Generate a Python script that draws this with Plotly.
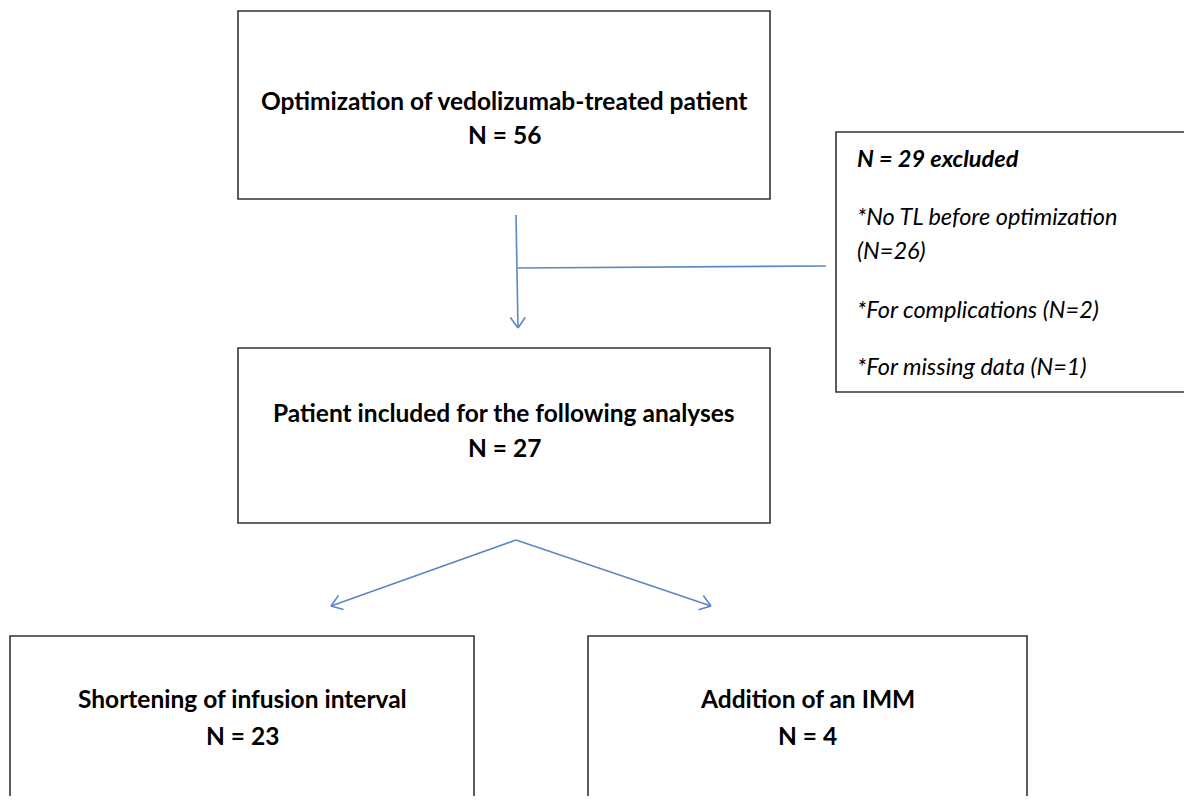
import math
import plotly.graph_objects as go

# ---- data ----
stage_titles = [
    "Optimization of vedolizumab-treated patient",
    "Patient included for the following analyses",
    "Shortening of infusion interval",
    "Addition of an IMM",
]
stage_counts = [56, 27, 23, 4]
excluded_total = 29
excluded_reasons = ["No TL before optimization", "For complications", "For missing data"]
excluded_counts = [26, 2, 1]

# ---- layout (pixel coordinates of the page) ----
W, H = 1192, 804
PAD = 8  # page body margin
boxes = [(238, 11, 770, 199), (238, 348, 770, 523), (10, 636, 474, 830), (588, 636, 1027, 830)]
title_y = [100, 412, 698, 698]
count_y = [134, 447, 735, 735]
excl_box = (836, 132, 1196, 392)

BLUE = "#5b87c5"
FONT = "Lato"
FS = 24.5
FS_EX = 23.5

fig = go.Figure()

for (x0, y0, x1, y1) in boxes + [excl_box]:
    fig.add_shape(type="rect", x0=x0, y0=y0, x1=x1, y1=y1,
                  line=dict(color="#333333", width=1.6), fillcolor="white", layer="below")

for i, (t, n) in enumerate(zip(stage_titles, stage_counts)):
    cx = (boxes[i][0] + boxes[i][2]) / 2
    fig.add_annotation(x=cx, y=title_y[i], text=f"<b>{t}</b>", showarrow=False,
                       font=dict(family=FONT, size=FS, color="black"))
    fig.add_annotation(x=cx, y=count_y[i], text=f"<b>N = {n}</b>", showarrow=False,
                       font=dict(family=FONT, size=FS, color="black"))

# excluded text
ex_x = 855
fig.add_annotation(x=ex_x, y=158, text=f"<b><i>N = {excluded_total} excluded</i></b>", showarrow=False,
                   xanchor="left", font=dict(family=FONT, size=FS_EX, color="black"))
ex_lines = [
    (216, f"<i>*{excluded_reasons[0]}</i>"),
    (250, f"<i>(N={excluded_counts[0]})</i>"),
    (309, f"<i>*{excluded_reasons[1]} (N={excluded_counts[1]})</i>"),
    (366, f"<i>*{excluded_reasons[2]} (N={excluded_counts[2]})</i>"),
]
for y, t in ex_lines:
    fig.add_annotation(x=ex_x, y=y, text=t, showarrow=False, xanchor="left",
                       font=dict(family=FONT, size=FS_EX, color="black"))


def line(xs, ys):
    fig.add_trace(go.Scatter(x=xs, y=ys, mode="lines", line=dict(color=BLUE, width=1.6),
                             hoverinfo="skip", showlegend=False))


def arrow(x0, y0, x1, y1, head=13, ang=35):
    line([x0, x1], [y0, y1])
    a = math.atan2(y0 - y1, x0 - x1)
    for s in (-1, 1):
        b = a + s * math.radians(ang)
        line([x1 + head * math.cos(b), x1], [y1 + head * math.sin(b), y1])


arrow(516, 215, 518, 328)
line([518, 826], [268, 266])
arrow(516, 540, 331, 606)
arrow(516, 540, 711, 606)

fig.update_layout(
    width=W - 2 * PAD, height=H - 2 * PAD, margin=dict(l=0, r=0, t=0, b=0),
    paper_bgcolor="white", plot_bgcolor="white",
    xaxis=dict(range=[PAD, W - PAD], visible=False, fixedrange=True),
    yaxis=dict(range=[H - PAD, PAD], visible=False, fixedrange=True),
    showlegend=False,
)
fig.write_html("out.html")
